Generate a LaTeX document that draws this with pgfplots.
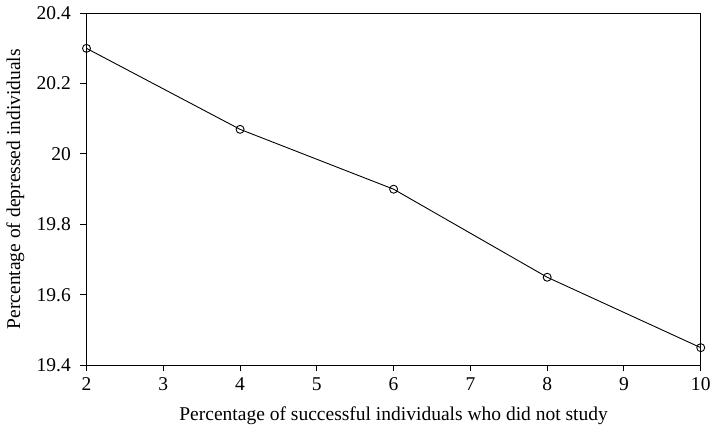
\documentclass[border=0pt]{standalone}
\usepackage{pgfplots}
\pgfplotsset{compat=1.18}
\usepackage{fontspec}
\setmainfont{Liberation Serif}
\begin{document}
\fontsize{19.5}{23}\selectfont
\begin{tikzpicture}
\begin{axis}[
  scale only axis,
  width=614pt, height=352pt,
  xmin=2, xmax=10, ymin=19.4, ymax=20.4,
  xtick={2,...,10},
  ytick={19.4,19.6,19.8,20,20.2,20.4},
  yticklabels={19.4,19.6,19.8,20,20.2,20.4},
  axis lines*=left,
  axis line style={line width=1.2pt},
  tick style={line width=1pt, black},
  tick align=outside,
  major tick length=6pt,
  /pgf/number format/assume math mode=true,
  ticklabel style={font=\fontsize{19.5}{23}\selectfont},
  yticklabel style={xshift=-3pt},
  label style={font=\fontsize{19.5}{23}\selectfont},
  xlabel={Percentage of successful individuals who did not study},
  ylabel={Percentage of depressed individuals},
  xlabel style={yshift=-2pt},
  ylabel style={yshift=-1pt},
  clip=false,
]
\draw[line width=1.2pt] (rel axis cs:0,1) -- (rel axis cs:1,1) -- (rel axis cs:1,0);
\addplot[black, line width=0.9pt, mark=o, mark size=4pt, mark options={line width=0.9pt}]
  coordinates {(2,20.30) (4,20.07) (6,19.90) (8,19.65) (10,19.45)};
\end{axis}
\end{tikzpicture}
\end{document}
